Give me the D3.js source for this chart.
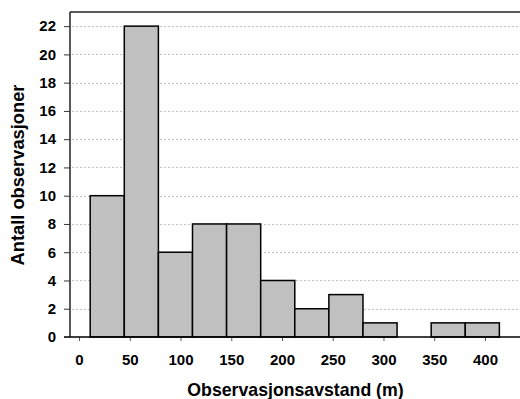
<!DOCTYPE html>
<html>
<head>
<meta charset="utf-8">
<script src="https://cdn.jsdelivr.net/npm/d3@7"></script>
<style>
  body { margin: 0; background: #fff; }
  svg text { font-family: "Liberation Sans", Arial, sans-serif; font-weight: bold; fill: #000; }
</style>
</head>
<body>
<div id="chart"></div>
<script>
// histogram bins (distance in m) and counts
var binStart = [11, 44.6, 78.2, 111.8, 145.4, 179, 212.6, 246.2, 279.8, 313.4, 347, 380.6];
var binWidth = 33.6;
var counts = [10, 22, 6, 8, 8, 4, 2, 3, 1, 0, 1, 1];
var xTicks = [0, 50, 100, 150, 200, 250, 300, 350, 400];
var yTicks = [0, 2, 4, 6, 8, 10, 12, 14, 16, 18, 20, 22];

var width = 520, height = 399;
var margin = {top: 12, left: 70, bottom: 62, right: -2};

var x = d3.scaleLinear().domain([-8.9, 436.5]).range([margin.left, width - margin.right]);
var y = d3.scaleLinear().domain([0, 23]).range([height - margin.bottom, margin.top]);

var svg = d3.select("#chart").append("svg")
    .attr("width", width)
    .attr("height", height);

// grid
svg.append("g")
    .selectAll("line")
    .data(yTicks.filter(function(d) { return d > 0; }))
    .enter().append("line")
      .attr("x1", margin.left + 2)
      .attr("x2", width)
      .attr("y1", function(d) { return Math.round(y(d)) + 0.5; })
      .attr("y2", function(d) { return Math.round(y(d)) + 0.5; })
      .attr("stroke", "#c4c4c4")
      .attr("stroke-dasharray", "2,2");

// bars
svg.append("g")
    .selectAll("rect")
    .data(counts.map(function(c, i) { return {x0: binStart[i], x1: binStart[i] + binWidth, n: c}; })
      .filter(function(d) { return d.n > 0; }))
    .enter().append("rect")
      .attr("x", function(d) { return x(d.x0); })
      .attr("width", function(d) { return x(d.x1) - x(d.x0); })
      .attr("y", function(d) { return y(d.n); })
      .attr("height", function(d) { return y(0) - y(d.n); })
      .attr("fill", "#c0c0c0")
      .attr("stroke", "#000")
      .attr("stroke-width", 1.5);

// frame: top and left
svg.append("line")
    .attr("x1", margin.left).attr("x2", width)
    .attr("y1", margin.top).attr("y2", margin.top)
    .attr("stroke", "#222").attr("stroke-width", 1.5);
svg.append("line")
    .attr("x1", margin.left).attr("x2", margin.left)
    .attr("y1", margin.top).attr("y2", y(0))
    .attr("stroke", "#222").attr("stroke-width", 1.5);

// x axis
var xaxis = d3.axisBottom(x).tickValues(xTicks).tickSize(4).tickPadding(13).tickSizeOuter(0);
var gx = svg.append("g")
    .attr("transform", "translate(0," + y(0) + ")")
    .call(xaxis);
gx.select(".domain").remove();
gx.selectAll(".tick line").attr("stroke", "#555");
gx.selectAll(".tick text").style("font-size", "15px");
gx.append("line")
    .attr("x1", margin.left - 6).attr("x2", width)
    .attr("stroke", "#000").attr("stroke-width", 1.5);

// y axis
var yaxis = d3.axisLeft(y).tickValues(yTicks).tickSize(6).tickPadding(8).tickSizeOuter(0);
var gy = svg.append("g")
    .attr("transform", "translate(" + margin.left + ",0)")
    .call(yaxis);
gy.select(".domain").remove();
gy.selectAll(".tick line").attr("stroke", "#333");
gy.selectAll(".tick text").style("font-size", "15px");

// titles
svg.append("text")
    .attr("x", 295.5)
    .attr("y", 395.5)
    .style("text-anchor", "middle")
    .style("font-size", "17.7px")
    .text("Observasjonsavstand (m)");

svg.append("text")
    .attr("transform", "rotate(-90)")
    .attr("x", -175)
    .attr("y", 24)
    .style("text-anchor", "middle")
    .style("font-size", "18.3px")
    .text("Antall observasjoner");
</script>
</body>
</html>
